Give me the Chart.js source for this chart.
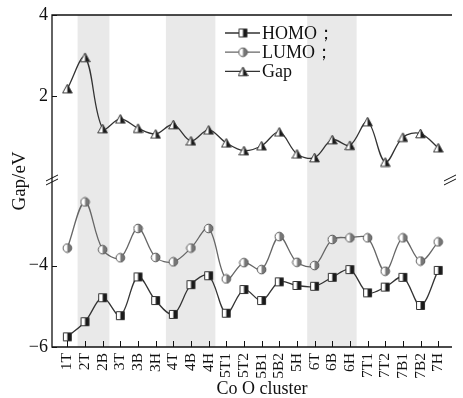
<!DOCTYPE html>
<html>
<head>
<meta charset="utf-8">
<script src="https://cdn.jsdelivr.net/npm/chart.js@4.4.1/dist/chart.umd.min.js"></script>
<style>
  html, body { margin: 0; padding: 0; background: #fff; }
  #wrap { width: 463px; height: 398px; }
</style>
</head>
<body>
<div id="wrap"><canvas id="gapChart" width="463" height="398"></canvas></div>
<script>
// Data
var clusters = ["1T", "2T", "2B", "3T", "3B", "3H", "4T", "4B", "4H", "5T1", "5T2",
  "5B1", "5B2", "5H", "6T", "6B", "6H", "7T1", "7T2", "7B1", "7B2", "7H"];
var homo = [-5.75, -5.38, -4.79, -5.23, -4.28, -4.86, -5.20, -4.47, -4.25, -5.17, -4.59,
  -4.86, -4.40, -4.49, -4.51, -4.29, -4.10, -4.67, -4.53, -4.29, -4.98, -4.12];
var lumo = [-3.57, -2.44, -3.61, -3.81, -3.09, -3.80, -3.91, -3.57, -3.09, -4.33, -3.93,
  -4.10, -3.29, -3.92, -4.00, -3.36, -3.32, -3.32, -4.14, -3.32, -3.89, -3.42];
var gap = [2.19, 2.96, 1.21, 1.45, 1.22, 1.08, 1.31, 0.91, 1.18, 0.86, 0.67,
  0.79, 1.13, 0.59, 0.50, 0.94, 0.80, 1.38, 0.39, 1.00, 1.09, 0.74];
var gapTicks = [2, 4];
var orbitalTicks = [-6, -4];
var shadedRanges = [["2T", "2B"], ["4T", "4H"], ["6T", "6H"]];
var seriesNames = ["HOMO；", "LUMO；", "Gap"];

var serif = "'Liberation Serif', 'Times New Roman', serif";

// half-filled markers (left white, right dark)
function makeMarker(shape, rightFill, stroke) {
  var c = document.createElement("canvas");
  c.width = 11;
  c.height = 11;
  var g = c.getContext("2d");
  function path() {
    g.beginPath();
    if (shape === "square") {
      g.rect(1.5, 1.5, 8, 8);
    } else if (shape === "circle") {
      g.arc(5.5, 5.5, 4.3, 0, Math.PI * 2);
    } else {
      g.moveTo(5.5, 1);
      g.lineTo(10.3, 9.8);
      g.lineTo(0.7, 9.8);
      g.closePath();
    }
  }
  path();
  g.fillStyle = "#fff";
  g.fill();
  g.save();
  path();
  g.clip();
  g.fillStyle = rightFill;
  g.fillRect(5.5, 0, 6, 11);
  g.restore();
  path();
  g.lineWidth = 1;
  g.strokeStyle = stroke;
  g.stroke();
  return c;
}

var markers = [
  makeMarker("square", "#1a1a1a", "#333"),
  makeMarker("circle", "#777", "#555"),
  makeMarker("triangle", "#1a1a1a", "#333")
];
var lineColors = ["#333", "#666", "#333"];

function toPoints(arr) {
  return arr.map(function (v, i) { return { x: i, y: v }; });
}

// bands, frame, inward ticks, axis break, legend and titles
var decorations = {
  id: "decorations",
  beforeDatasetsDraw: function (chart) {
    var ctx = chart.ctx, area = chart.chartArea, xs = chart.scales.x;
    ctx.save();
    ctx.fillStyle = "#e9e9e9";
    shadedRanges.forEach(function (r) {
      var x0 = xs.getPixelForValue(clusters.indexOf(r[0]) - 0.42);
      var x1 = xs.getPixelForValue(clusters.indexOf(r[1]) + 0.38);
      ctx.fillRect(x0, area.top, x1 - x0, area.bottom - area.top);
    });
    ctx.restore();
  },
  afterDraw: function (chart) {
    var ctx = chart.ctx, area = chart.chartArea;
    var xs = chart.scales.x, yTop = chart.scales.yTop, yBot = chart.scales.yBot;
    ctx.save();
    ctx.strokeStyle = "#111";
    ctx.lineWidth = 1.3;
    ctx.beginPath();
    ctx.moveTo(area.right, area.top);
    ctx.lineTo(area.left, area.top);
    ctx.lineTo(area.left, area.bottom);
    ctx.lineTo(area.right, area.bottom);
    ctx.stroke();

    // inward ticks
    ctx.lineWidth = 1;
    ctx.beginPath();
    clusters.forEach(function (c, i) {
      var x = Math.round(xs.getPixelForValue(i)) + 0.5;
      ctx.moveTo(x, area.bottom);
      ctx.lineTo(x, area.bottom - 6);
    });
    gapTicks.forEach(function (v) {
      var y = Math.round(yTop.getPixelForValue(v)) + 0.5;
      ctx.moveTo(area.left, y);
      ctx.lineTo(area.left + 5, y);
    });
    orbitalTicks.forEach(function (v) {
      var y = Math.round(yBot.getPixelForValue(v)) + 0.5;
      ctx.moveTo(area.left, y);
      ctx.lineTo(area.left + 5, y);
    });
    ctx.stroke();

    // axis break marks
    var by = Math.min(yTop.bottom, yBot.bottom);
    [area.left, area.right - 2].forEach(function (bx) {
      ctx.beginPath();
      ctx.moveTo(bx - 6, by + 1);
      ctx.lineTo(bx + 6, by - 5);
      ctx.moveTo(bx - 6, by + 5);
      ctx.lineTo(bx + 6, by - 1);
      ctx.stroke();
    });

    // legend
    ctx.font = "18px " + serif;
    ctx.textBaseline = "middle";
    ctx.fillStyle = "#111";
    seriesNames.forEach(function (name, i) {
      var ly = area.top + 18 + i * 19.2;
      var lx = area.left + 173;
      ctx.strokeStyle = lineColors[i];
      ctx.lineWidth = 1.3;
      ctx.beginPath();
      ctx.moveTo(lx, ly);
      ctx.lineTo(lx + 35, ly);
      ctx.stroke();
      ctx.drawImage(markers[i], lx + 18 - 5.5, ly - 5.5);
      ctx.fillText(name, lx + 37, ly + 1);
    });

    // axis titles
    ctx.textAlign = "center";
    ctx.font = "18px " + serif;
    ctx.fillText("Co O cluster", area.left + 210, 389);
    ctx.translate(20, 181);
    ctx.rotate(-Math.PI / 2);
    ctx.font = "19px " + serif;
    ctx.fillText("Gap/eV", 0, 0);
    ctx.restore();
  }
};

function yTickLabel(v) {
  return v < 0 ? "\u2212" + Math.abs(v) : String(v);
}

var chart = new Chart(document.getElementById("gapChart").getContext("2d"), {
  type: "line",
  data: {
    datasets: [
      {
        label: seriesNames[0],
        data: toPoints(homo),
        yAxisID: "yBot",
        borderColor: lineColors[0],
        borderWidth: 1.3,
        pointStyle: markers[0],
        tension: 0.35,
        clip: false
      },
      {
        label: seriesNames[1],
        data: toPoints(lumo),
        yAxisID: "yBot",
        borderColor: lineColors[1],
        borderWidth: 1.3,
        pointStyle: markers[1],
        tension: 0.35,
        clip: false
      },
      {
        label: seriesNames[2],
        data: toPoints(gap),
        yAxisID: "yTop",
        borderColor: lineColors[2],
        borderWidth: 1.3,
        pointStyle: markers[2],
        tension: 0.35,
        clip: false
      }
    ]
  },
  options: {
    responsive: false,
    animation: false,
    devicePixelRatio: 1,
    layout: { padding: { top: 15, right: 1, left: 0, bottom: 0 } },
    plugins: { legend: { display: false }, tooltip: { enabled: false } },
    scales: {
      x: {
        type: "linear",
        min: -0.87,
        max: 21.78,
        grid: { display: false, drawTicks: false },
        border: { display: false },
        afterBuildTicks: function (scale) {
          scale.ticks = clusters.map(function (c, i) { return { value: i }; });
        },
        afterFit: function (scale) { scale.height = 51; },
        ticks: {
          autoSkip: false,
          minRotation: 90,
          maxRotation: 90,
          padding: 6,
          color: "#111",
          font: { family: serif, size: 15.5 },
          callback: function (v) { return clusters[v]; }
        }
      },
      yBot: {
        type: "linear",
        position: "left",
        stack: "gapAxis",
        stackWeight: 4.1,
        min: -6,
        max: -1.9,
        grid: { display: false, drawTicks: false },
        border: { display: false },
        afterBuildTicks: function (scale) {
          scale.ticks = orbitalTicks.map(function (v) { return { value: v }; });
        },
        afterFit: function (scale) { scale.width = 52; },
        ticks: {
          padding: 4,
          color: "#111",
          font: { family: serif, size: 18 },
          callback: yTickLabel
        }
      },
      yTop: {
        type: "linear",
        position: "left",
        stack: "gapAxis",
        stackWeight: 4.05,
        min: -0.05,
        max: 4,
        grid: { display: false, drawTicks: false },
        border: { display: false },
        afterBuildTicks: function (scale) {
          scale.ticks = gapTicks.map(function (v) { return { value: v }; });
        },
        afterFit: function (scale) { scale.width = 52; },
        ticks: {
          padding: 4,
          color: "#111",
          font: { family: serif, size: 18 },
          callback: yTickLabel
        }
      }
    }
  },
  plugins: [decorations]
});
</script>
</body>
</html>
